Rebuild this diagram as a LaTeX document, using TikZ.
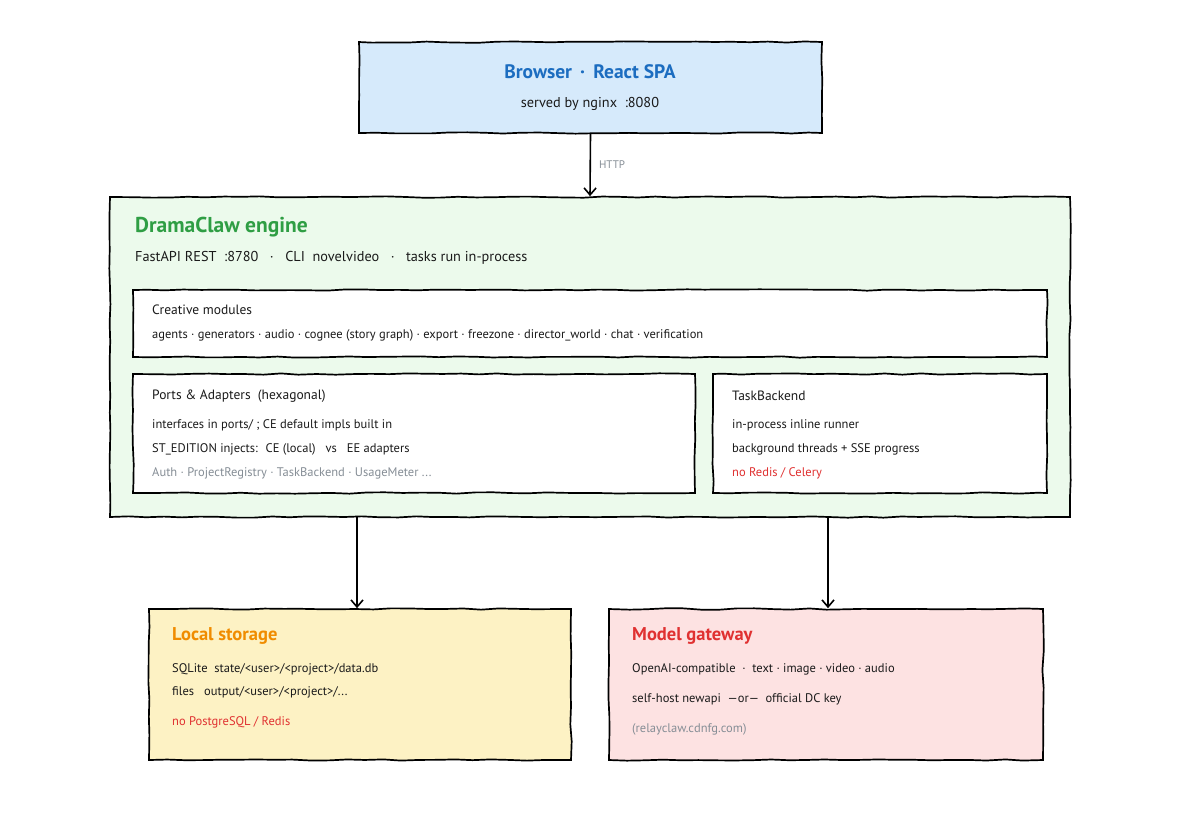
\documentclass[tikz,border=0pt]{standalone}
\usepackage{fontspec}
\setmainfont{PT Sans}
\usetikzlibrary{arrows.meta,decorations.pathmorphing}
\definecolor{bluefill}{HTML}{D6EAFB}
\definecolor{bluetxt}{HTML}{1C6DC0}
\definecolor{greenfill}{HTML}{ECFAEC}
\definecolor{greentxt}{HTML}{2F9E44}
\definecolor{yellowfill}{HTML}{FDF2C4}
\definecolor{orangetxt}{HTML}{F08C00}
\definecolor{pinkfill}{HTML}{FDE2E2}
\definecolor{redtxt}{HTML}{E03131}
\definecolor{graytxt}{HTML}{868E96}
\definecolor{inktxt}{HTML}{1A1A1A}
\tikzset{
  sketch/.style={draw=black, line width=1.7pt, rectangle, inner sep=0pt,
    decorate, decoration={random steps, segment length=18pt, amplitude=0.7pt}},
  title/.style={anchor=west, font=\fontsize{18.5}{22}\selectfont\bfseries, inner sep=0pt},
  body/.style={anchor=west, font=\fontsize{12.5}{15}\selectfont, text=inktxt, inner sep=0pt},
  sub/.style={anchor=west, font=\fontsize{13.5}{16}\selectfont, text=inktxt, inner sep=0pt},
  arr/.style={line width=1.6pt, -{Straight Barb[length=7pt,width=12pt,line width=1.6pt]}},
}
\begin{document}
\begin{tikzpicture}[x=1pt,y=-1pt]
\useasboundingbox[fill=white] (0,0) rectangle (1180,820);
% boxes
\node[sketch, fill=bluefill, minimum width=463pt, minimum height=91pt] (browser) at (590.5,87.5) {};
\node[sketch, fill=greenfill, minimum width=960pt, minimum height=320pt] (engine) at (590,357) {};
\node[sketch, fill=white, minimum width=914pt, minimum height=67pt] (creative) at (590,323.5) {};
\node[sketch, fill=white, minimum width=562pt, minimum height=119pt] (ports) at (414,433.5) {};
\node[sketch, fill=white, minimum width=334pt, minimum height=119pt] (task) at (880,433.5) {};
\node[sketch, fill=yellowfill, minimum width=422pt, minimum height=151pt] (local) at (360,684.5) {};
\node[sketch, fill=pinkfill, minimum width=434pt, minimum height=151pt] (model) at (826,684.5) {};
% browser text
\node[font=\fontsize{19.5}{23}\selectfont\bfseries, text=bluetxt, inner sep=0pt] (btitle) at (590,72) {Browser \,·\, React SPA};
\node[font=\fontsize{14.3}{17}\selectfont, text=inktxt, inner sep=0pt] (bsub) at (590,104) {served by nginx \ :8080};
% engine text
\node[title, text=greentxt, font=\fontsize{21.5}{25}\selectfont\bfseries] (etitle) at (135,227) {DramaClaw engine};
\node[sub, font=\fontsize{14.3}{17}\selectfont] (esub) at (135,258) {FastAPI REST \ :8780 \ \ · \ \ CLI \ novelvideo \ \ · \ \ tasks run in-process};
% creative
\node[sub] (ctitle) at (152,310) {Creative modules};
\node[body] (cline) at (152,335) {agents · generators · audio · cognee (story graph) · export · freezone · director\_world · chat · verification};
% ports
\node[sub] (ptitle) at (152,396) {Ports \& Adapters \ (hexagonal)};
\node[body] (pl1) at (152,425) {interfaces in ports/ ; CE default impls built in};
\node[body] (pl2) at (152,449) {ST\_EDITION injects: \ CE (local) \ \ vs \ \ EE adapters};
\node[body, text=graytxt] (pl3) at (152,473) {Auth · ProjectRegistry · TaskBackend · UsageMeter ...};
% task
\node[sub] (ttitle) at (732,396) {TaskBackend};
\node[body] (tl1) at (732,425) {in-process inline runner};
\node[body] (tl2) at (732,449) {background threads + SSE progress};
\node[body, text=redtxt] (tl3) at (732,473) {no Redis / Celery};
% local
\node[title, text=orangetxt] (ltitle) at (172,636) {Local storage};
\node[body] (ll1) at (172,669) {SQLite \ state/<user>/<project>/data.db};
\node[body] (ll2) at (172,692) {files \ \ output/<user>/<project>/...};
\node[body, text=redtxt] (ll3) at (172,722) {no PostgreSQL / Redis};
% model
\node[title, text=redtxt] (mtitle) at (632,636) {Model gateway};
\node[body] (ml1) at (632,669) {OpenAI-compatible \ · \ text · image · video · audio};
\node[body] (ml2) at (632,699) {self-host newapi \ —or— \ official DC key};
\node[body, text=graytxt] (ml3) at (632,729) {(relayclaw.cdnfg.com)};
% connectors
\draw[arr] (browser.south) -- (engine.north) node[midway, right=8pt, font=\fontsize{11}{13}\selectfont, text=graytxt, inner sep=0pt] (http) {HTTP};
\coordinate (e1) at (357,517);
\coordinate (e2) at (828,517);
\draw[arr] (e1) -- (e1 |- local.north);
\draw[arr] (e2) -- (e2 |- model.north);
\end{tikzpicture}
\end{document}
